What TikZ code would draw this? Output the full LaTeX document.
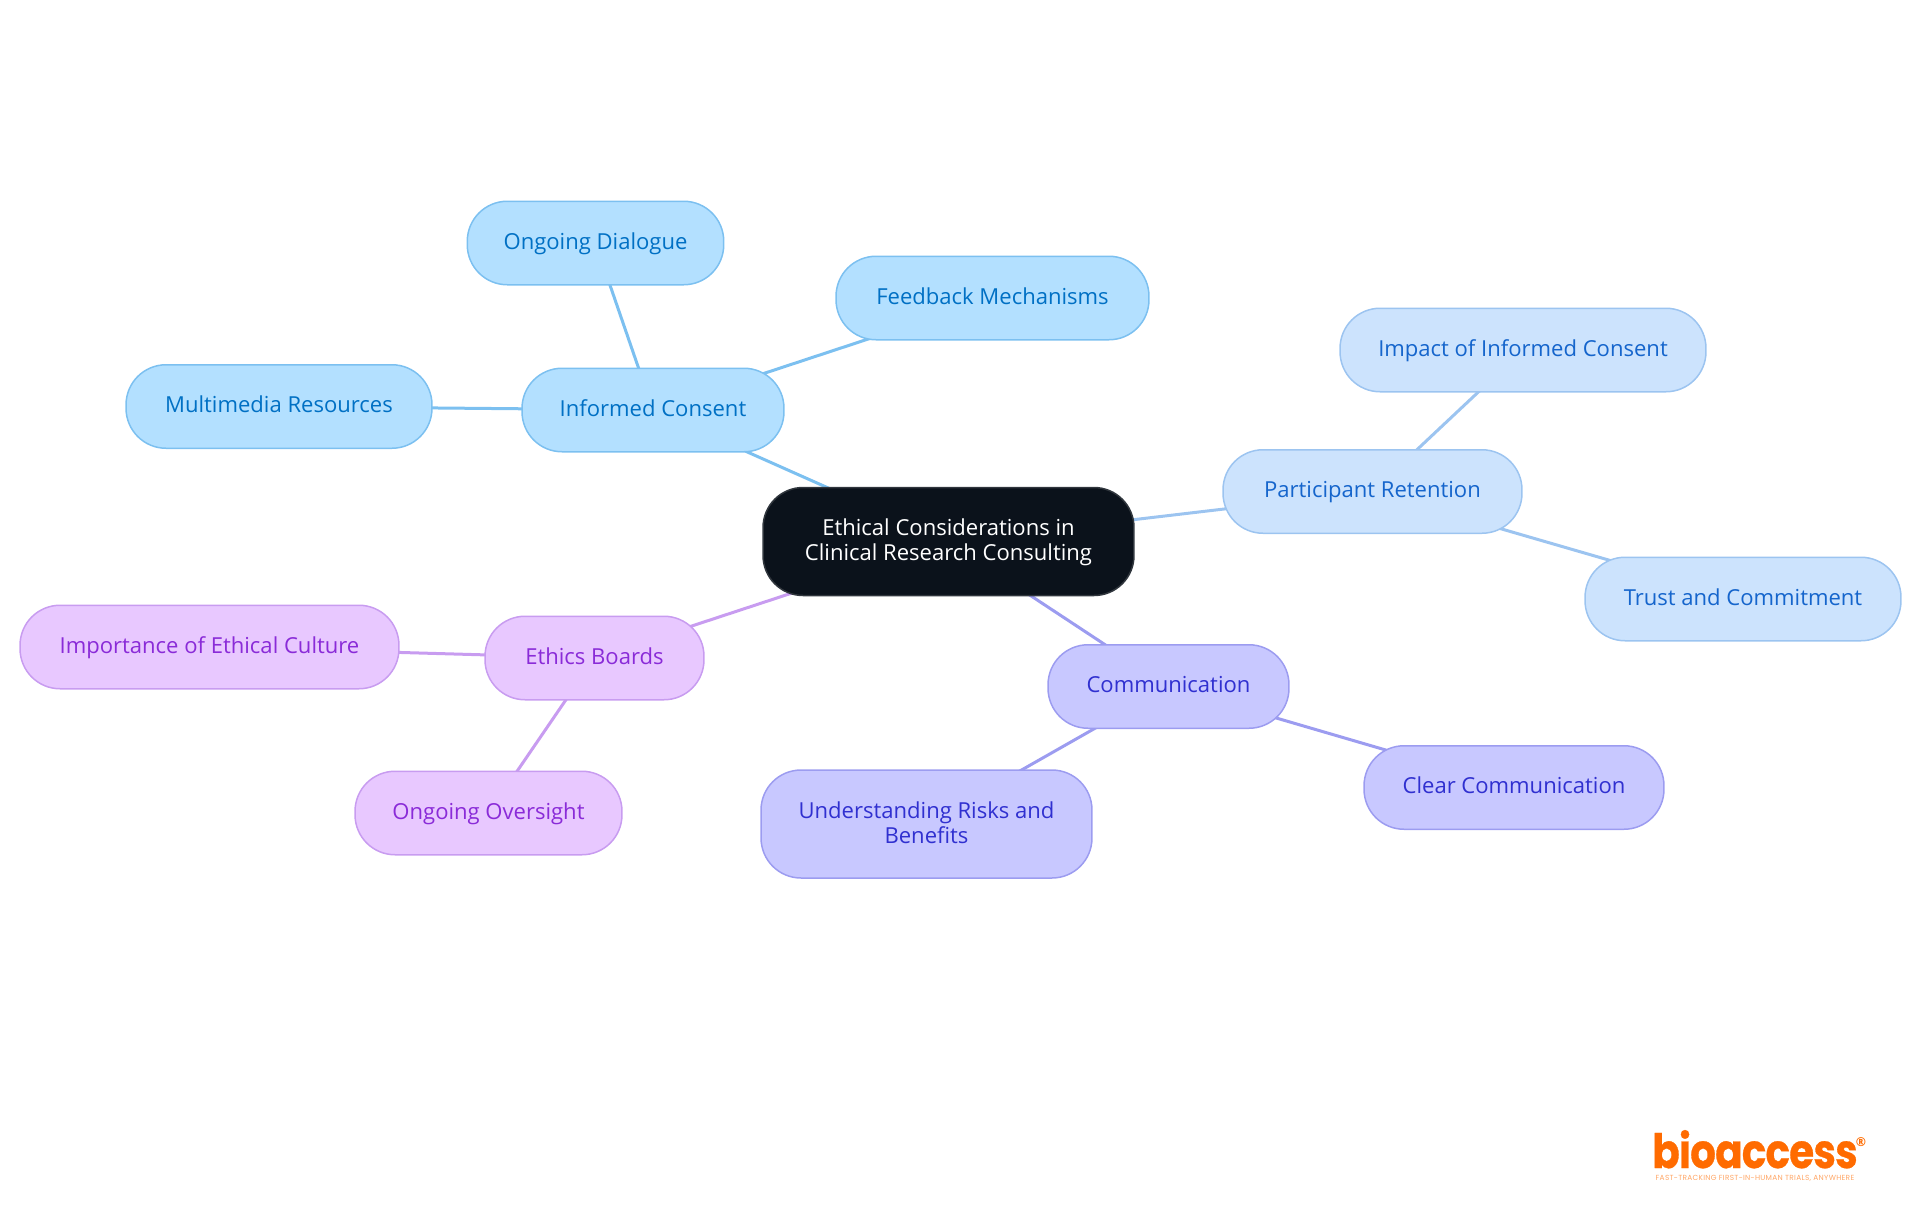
\documentclass[tikz,border=0pt]{standalone}
\usepackage{fontspec}
\setmainfont{Open Sans}
\newfontfamily\logofont{Poppins}[FakeStretch=0.85, LetterSpace=-1.5, BoldFeatures={FakeBold=0.6}]
\newfontfamily\tagfont{Poppins}[LetterSpace=4]
\usetikzlibrary{backgrounds}

\definecolor{rootfill}{HTML}{0B121B}
\definecolor{consentfill}{HTML}{B3E0FF}
\definecolor{consentline}{HTML}{7CC0F0}
\definecolor{consenttext}{HTML}{0070C4}
\definecolor{retainfill}{HTML}{CCE3FD}
\definecolor{retainline}{HTML}{9CC4F0}
\definecolor{retaintext}{HTML}{1565CC}
\definecolor{commfill}{HTML}{C8C8FF}
\definecolor{commline}{HTML}{9C9CF0}
\definecolor{commtext}{HTML}{3030D0}
\definecolor{ethicsfill}{HTML}{E8C8FF}
\definecolor{ethicsline}{HTML}{C89CF0}
\definecolor{ethicstext}{HTML}{8A2BD8}
\definecolor{logoorange}{HTML}{FF6B00}

\begin{document}
\begin{tikzpicture}[
    x=0.02cm, y=-0.02cm,
    font=\fontsize{12.55}{14.2}\selectfont,
    % Stile
    topic/.style={rounded corners=0.8cm, line width=0.03cm, minimum height=1.67cm, inner sep=0pt, align=center, text height=0.34cm, text depth=0.1cm},
    twolines/.style={minimum height=2.16cm, text height=0.86cm, text depth=0.1cm},
    root/.style={topic, twolines, draw=rootfill!85!white, fill=rootfill, text=white},
    consent/.style={topic, draw=consentline, fill=consentfill, text=consenttext},
    retain/.style={topic, draw=retainline, fill=retainfill, text=retaintext},
    comm/.style={topic, draw=commline, fill=commfill, text=commtext},
    ethics/.style={topic, draw=ethicsline, fill=ethicsfill, text=ethicstext},
    link/.style={line width=0.06cm}
]
    \useasboundingbox (0,0) rectangle (1920,1215);

    % ==========================================
    % ROOT
    % ==========================================
    \node[root, minimum width=7.42cm] (ethicsRoot) at (948.5,541.5) {Ethical Considerations in\\Clinical Research Consulting};

    % ==========================================
    % INFORMED CONSENT
    % ==========================================
    \node[consent, minimum width=5.24cm] (informedConsent) at (653,410) {Informed Consent};
    \node[consent, minimum width=5.13cm] (ongoingDialogue) at (595.5,243) {Ongoing Dialogue};
    \node[consent, minimum width=6.26cm] (feedbackMech) at (992.5,298) {Feedback Mechanisms};
    \node[consent, minimum width=6.12cm] (multimediaRes) at (279,406.5) {Multimedia Resources};

    % ==========================================
    % PARTICIPANT RETENTION
    % ==========================================
    \node[retain, minimum width=5.98cm] (participantRet) at (1372.5,491.5) {Participant Retention};
    \node[retain, minimum width=7.32cm] (impactConsent) at (1523,350) {Impact of Informed Consent};
    \node[retain, minimum width=6.32cm] (trustCommit) at (1743,599) {Trust and Commitment};

    % ==========================================
    % COMMUNICATION
    % ==========================================
    \node[comm, minimum width=4.82cm] (communication) at (1168.5,686.5) {Communication};
    \node[comm, minimum width=6cm] (clearComm) at (1514,787.5) {Clear Communication};
    \node[comm, twolines, minimum width=6.62cm] (riskBenefit) at (926.5,824) {Understanding Risks and\\Benefits};

    % ==========================================
    % ETHICS BOARDS
    % ==========================================
    \node[ethics, minimum width=4.38cm] (ethicsBoards) at (594.5,658) {Ethics Boards};
    \node[ethics, minimum width=7.58cm] (ethicalCulture) at (209.5,647) {Importance of Ethical Culture};
    \node[ethics, minimum width=5.34cm] (ongoingOversight) at (488.5,813) {Ongoing Oversight};

    % ==========================================
    % VERBINDUNGEN
    % ==========================================
    \begin{scope}[on background layer]
        \draw[link, consentline] (ethicsRoot.center) -- (informedConsent.center);
        \draw[link, consentline] (informedConsent.center) -- (ongoingDialogue.center);
        \draw[link, consentline] (informedConsent.center) -- (feedbackMech.center);
        \draw[link, consentline] (informedConsent.center) -- (multimediaRes.center);
        \draw[link, retainline] (ethicsRoot.center) -- (participantRet.center);
        \draw[link, retainline] (participantRet.center) -- (impactConsent.center);
        \draw[link, retainline] (participantRet.center) -- (trustCommit.center);
        \draw[link, commline] (ethicsRoot.center) -- (communication.center);
        \draw[link, commline] (communication.center) -- (clearComm.center);
        \draw[link, commline] (communication.center) -- (riskBenefit.center);
        \draw[link, ethicsline] (ethicsRoot.center) -- (ethicsBoards.center);
        \draw[link, ethicsline] (ethicsBoards.center) -- (ethicalCulture.center);
        \draw[link, ethicsline] (ethicsBoards.center) -- (ongoingOversight.center);
    \end{scope}

    % ==========================================
    % LOGO
    % ==========================================
    \node[text=logoorange, inner sep=0pt, anchor=base] (logoWord) at (1755,1168) {\logofont\fontsize{27}{27}\selectfont\bfseries bioaccess};
    \node[text=logoorange, inner sep=0pt] (logoReg) at (1861,1142) {\fontsize{7}{7}\selectfont\bfseries ®};
    \node[text=logoorange!60!white, inner sep=0pt] (logoTag) at (1755,1178) {\tagfont\fontsize{4.2}{4.5}\selectfont FAST-TRACKING FIRST-IN-HUMAN TRIALS, ANYWHERE};
\end{tikzpicture}
\end{document}
